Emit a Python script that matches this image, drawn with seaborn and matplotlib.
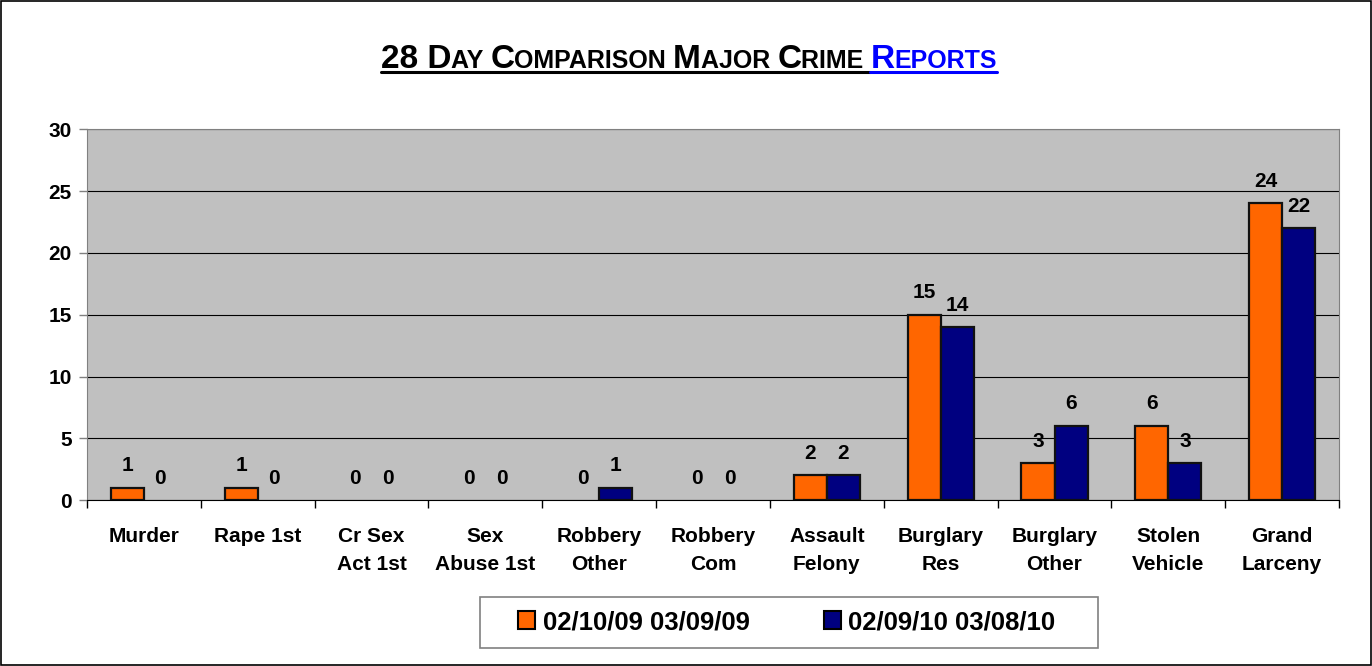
import pandas as pd
import matplotlib.pyplot as plt
import matplotlib.transforms as mtransforms
import seaborn as sns

# data
categories = ['Murder', 'Rape 1st', 'Cr Sex\nAct 1st', 'Sex\nAbuse 1st', 'Robbery\nOther',
              'Robbery\nCom', 'Assault\nFelony', 'Burglary\nRes', 'Burglary\nOther',
              'Stolen\nVehicle', 'Grand\nLarceny']
period_2009 = [1, 1, 0, 0, 0, 0, 2, 15, 3, 6, 24]
period_2010 = [0, 0, 0, 0, 1, 0, 2, 14, 6, 3, 22]
labels = ['02/10/09 03/09/09', '02/09/10 03/08/10']
colors = ['#FF6600', '#000080']

df = pd.DataFrame({
    'category': categories * 2,
    'count': period_2009 + period_2010,
    'period': [labels[0]] * len(categories) + [labels[1]] * len(categories),
})

sns.set_style('white')
plt.rcParams['font.family'] = ['Liberation Sans', 'DejaVu Sans']
plt.rcParams['font.weight'] = 'bold'
plt.rcParams['text.color'] = 'black'
plt.rcParams['xtick.color'] = 'black'
plt.rcParams['ytick.color'] = 'black'

fig = plt.figure(figsize=(13.72, 6.66), dpi=100)
ax = fig.add_axes([0.0634, 0.249, 0.9126, 0.557])

sns.barplot(data=df, x='category', y='count', hue='period', palette=colors,
            width=0.58, edgecolor='#111111', linewidth=1.6, saturation=1, ax=ax)

# zero bars draw nothing in the original
for p in ax.patches:
    if p.get_height() == 0:
        p.set_linewidth(0)

ax.set_facecolor('#C0C0C0')
ax.set_ylim(0, 30)
ax.set_xlim(-0.5, len(categories) - 0.5)
ax.set_yticks(range(0, 31, 5))
ax.yaxis.grid(True, color='black', linewidth=0.8)
ax.set_axisbelow(True)
ax.set_xlabel('')
ax.set_ylabel('')
for side in ['top', 'right', 'left']:
    ax.spines[side].set_color('#808080')
ax.spines['bottom'].set_color('black')

ax.set_xticks(range(len(categories)))
ax.set_xticklabels(categories, linespacing=1.6, fontweight='bold', va='top')
ax.tick_params(axis='y', labelsize=15, length=6, width=1, color='#808080', pad=5, left=True,
               labelcolor='black')
ax.tick_params(axis='x', which='major', labelsize=15, length=0, pad=19.5, labelcolor='black')
ax.set_xticks([i - 0.5 for i in range(len(categories) + 1)], minor=True)
ax.tick_params(axis='x', which='minor', length=6, width=1, color='black', bottom=True)
for lab in ax.get_yticklabels():
    lab.set_fontweight('bold')

for cont in ax.containers:
    ax.bar_label(cont, padding=9, fontsize=15, fontweight='bold', color='black')

ax.get_legend().remove()
handles = [plt.Rectangle((0, 0), 1, 1, facecolor=c, edgecolor='black', linewidth=1.5) for c in colors]
leg = fig.legend(handles, labels, loc='center', bbox_to_anchor=(0.5735, 0.066), ncol=2,
                 fontsize=18.5, frameon=False, handlelength=0.65, handleheight=0.65,
                 handletextpad=0.3, columnspacing=2.9, borderaxespad=0)
for t in leg.get_texts():
    t.set_fontweight('bold')
    t.set_color('black')
ident = mtransforms.IdentityTransform()
fig.add_artist(plt.Rectangle((480, 666 - 648), 618, 51, transform=ident, fill=False,
                             edgecolor='#808080', linewidth=1.2))

# title in small caps, built from pieces
pieces = [('28 D', 24, 'black'), ('AY ', 18, 'black'), ('C', 24, 'black'),
          ('OMPARISON ', 18, 'black'), ('M', 24, 'black'), ('AJOR ', 18, 'black'),
          ('C', 24, 'black'), ('RIME ', 18, 'black'), ('R', 24, '#0000FF'),
          ('EPORTS', 18, '#0000FF')]
renderer = fig.canvas.get_renderer()
texts = []
for s, size, c in pieces:
    t = fig.text(0, 0, s, fontsize=size, fontweight='bold', color=c, transform=ident,
                 va='baseline', ha='left')
    texts.append(t)
widths = [t.get_window_extent(renderer).width for t in texts]
total = sum(widths)
x = 689 - total / 2
base_y = 666 - 68
for t, w, (s, size, c) in zip(texts, widths, pieces):
    t.set_position((x, base_y))
    fig.add_artist(plt.Line2D([x, x + w], [base_y - 4, base_y - 4], color=c, linewidth=2.2,
                              transform=ident))
    x += w

# outer border
fig.add_artist(plt.Rectangle((0.001, 0.0015), 0.998, 0.997, transform=fig.transFigure,
                             fill=False, edgecolor='black', linewidth=1.2))

plt.savefig('out.png', dpi=100)
